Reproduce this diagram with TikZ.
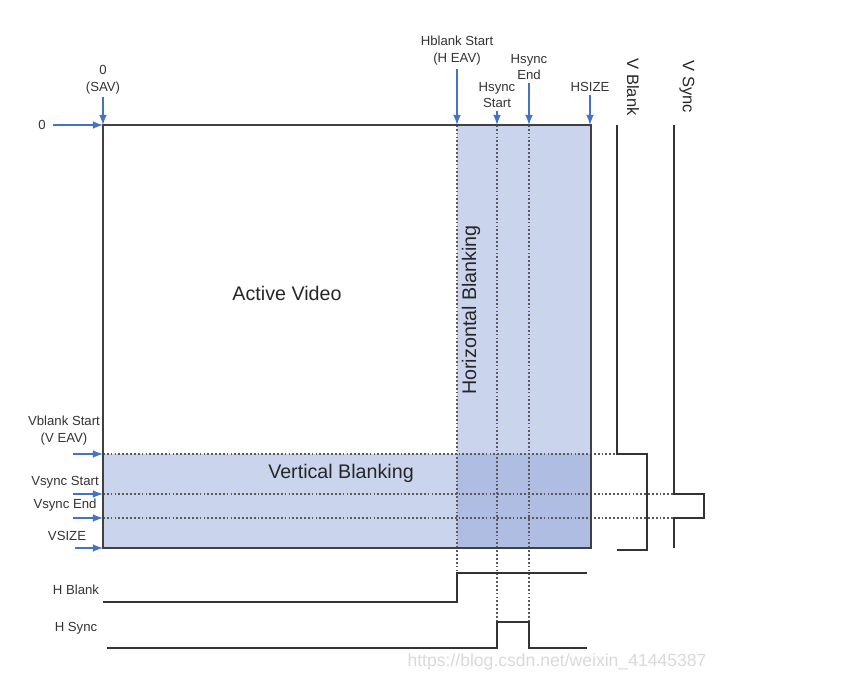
\documentclass[tikz,border=0pt]{standalone}
\usepackage{fontspec}
\setmainfont{Liberation Sans}
\usetikzlibrary{positioning}
\definecolor{arrblue}{RGB}{68,114,196}
\definecolor{blankfill}{RGB}{140,160,215}

\begin{document}
\begin{tikzpicture}[
		x=0.02cm, y=-0.02cm,   % 按像素坐标作图，y 轴向下
		% 文字样式
		lbl/.style={font=\fontsize{7.5}{9.6}\selectfont, text=black!80, align=center, inner sep=1.5pt},
		big/.style={font=\fontsize{11.2}{13}\selectfont, text=black!85},
		sig/.style={font=\fontsize{9.4}{11}\selectfont, text=black!85, rotate=-90},
		% 线条样式
		arr/.style={-latex, draw=arrblue, line width=1pt},
		blank/.style={fill=blankfill, fill opacity=0.45},
		frame/.style={draw=black!75, line width=1.1pt},
		wave/.style={draw=black!80, line width=1.1pt},
		dots/.style={dash pattern=on 1pt off 1.2pt, draw=black!65, line width=1pt}
		]
		\useasboundingbox (0,0) rectangle (841,680);

		% 关键位置
		\coordinate (sav)  at (103,125);
		\coordinate (hbs)  at (457,125);
		\coordinate (hss)  at (497,125);
		\coordinate (hse)  at (529,125);
		\coordinate (hsz)  at (590,125);
		\coordinate (zero) at (53,125);

		% 消隐区域
		\fill[blank] (hbs) rectangle (591,548);
		\fill[blank] (103,454) rectangle (591,548);

		% 虚线
		\draw[dots] (hbs) -- (457,573);
		\draw[dots] (hss) -- (497,622);
		\draw[dots] (hse) -- (529,622);
		\draw[dots] (103,454) -- (617,454);
		\draw[dots] (103,494) -- (674,494);
		\draw[dots] (103,518) -- (674,518);

		% 图像边框
		\draw[frame] (sav) rectangle (591,548);

		% 区域名称
		\node[big] (active) at (287,293) {Active Video};
		\node[big] (vblank) at (341,473) {Vertical Blanking};
		\node[big, rotate=90] (hblank) at (471,310) {Horizontal Blanking};

		% 上方标记
		\node[lbl] (savlbl) at (103,80) {0\\(SAV)};
		\node[lbl] (hbslbl) at (457,51) {Hblank Start\\(H EAV)};
		\node[lbl] (hsslbl) at (497,95) {Hsync\\Start};
		\node[lbl] (hselbl) at (529,67) {Hsync\\End};
		\node[lbl] (hszlbl) at (590,87) {HSIZE};
		\foreach \n in {sav,hbs,hss,hse,hsz}
			\draw[arr] (\n lbl) -- (\n);

		% 左侧标记
		\node[lbl] (zerolbl) at (42,125) {0};
		\draw[arr] (zero) -- (sav);
		\node[lbl] (vbslbl) at (64,431) {Vblank Start\\(V EAV)};
		\node[lbl] (vsslbl) at (65,482) {Vsync Start};
		\node[lbl] (vselbl) at (65,505) {Vsync End};
		\node[lbl] (vszlbl) at (67,536) {VSIZE};
		\foreach \n/\y/\t in {vbs/454/73,vss/494/73,vse/518/73,vsz/548/75} {
			\coordinate (\n) at (103,\y);
			\coordinate (\n-t) at (\t,\y);
			\draw[arr] (\n-t) -- (\n);
		}

		% 垂直时序
		\node[sig] (vblbl) at (633,87) {V Blank};
		\node[sig] (vslbl) at (687,87) {V Sync};
		\draw[wave] (617,125) -- (617,454) -- (647,454) -- (647,550) -- (617,550);
		\draw[wave] (674,125) -- (674,494) -- (704,494) -- (704,518) -- (674,518) -- (674,548);

		% 水平时序
		\node[lbl] (hblbl) at (76,590) {H Blank};
		\node[lbl] (hslbl) at (76,628) {H Sync};
		\draw[wave] (103,602) -- (457,602) -- (457,573) -- (587,573);
		\draw[wave] (107,648) -- (497,648) -- (497,622) -- (529,622) -- (529,648) -- (587,648);

		% 水印
		\node[font=\fontsize{10}{12}\selectfont, text=black!15] (mark) at (557,662) {https://blog.csdn.net/weixin\_41445387};
	\end{tikzpicture}
\end{document}
